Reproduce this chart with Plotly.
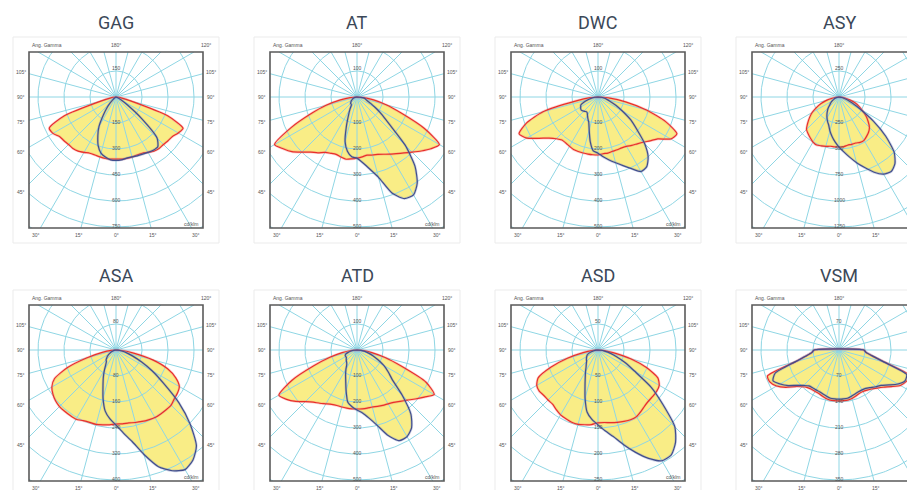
import numpy as np
import plotly.graph_objects as go

W, H = 915, 490

TITLES = ["GAG", "AT", "DWC", "ASY", "ASA", "ATD", "ASD", "VSM"]
RING_STEP = [150, 100, 100, 250, 80, 100, 50, 70]  # cd/klm per ring

GAMMA = [-90, -85, -80, -75, -70, -65, -60, -55, -50, -45, -40, -35, -30, -25, -20, -15, -10, -5, 0,
         5, 10, 15, 20, 25, 30, 35, 40, 45, 50, 55, 60, 65, 70, 75, 80, 85, 90]

# C0-C180 plane (red)
RED_GAG = [0, 17, 35, 87, 317, 425, 420, 398, 392, 387, 387, 381, 369, 358, 356, 358, 360, 360, 358,
           360, 360, 358, 356, 358, 369, 381, 387, 387, 392, 398, 415, 427, 317, 87, 35, 17, 0]
RED_AT = [0, 27, 65, 123, 189, 281, 366, 347, 327, 300, 277, 262, 246, 239, 235, 239, 243, 239, 235,
          231, 227, 231, 235, 243, 254, 266, 281, 300, 323, 347, 366, 285, 181, 116, 65, 27, 0]
RED_DWC = [0, 31, 85, 219, 293, 335, 316, 277, 246, 227, 216, 216, 219, 223, 223, 223, 223, 223, 223,
           219, 219, 216, 216, 216, 219, 227, 235, 246, 262, 281, 323, 335, 277, 193, 108, 46, 0]
RED_ASY = [0, 29, 67, 125, 183, 240, 298, 346, 394, 442, 462, 481, 500, 510, 500, 491, 481, 481, 481,
           481, 471, 471, 471, 481, 481, 462, 442, 414, 366, 317, 260, 212, 164, 106, 58, 29, 0]
RED_ASA = [0, 15, 43, 92, 160, 209, 228, 237, 243, 246, 246, 246, 246, 240, 237, 237, 234, 231, 228,
           228, 228, 231, 234, 237, 240, 240, 240, 240, 234, 231, 225, 203, 169, 117, 55, 18, 0]
RED_ATD = [0, 23, 58, 108, 177, 277, 347, 331, 308, 281, 262, 250, 239, 231, 227, 227, 227, 227, 227,
           227, 227, 227, 231, 235, 239, 246, 258, 273, 293, 316, 343, 293, 181, 112, 58, 23, 0]
RED_ASD = [0, 12, 29, 61, 96, 127, 136, 138, 136, 136, 136, 140, 144, 146, 148, 148, 146, 144, 140,
           140, 142, 144, 146, 148, 148, 144, 140, 138, 138, 138, 136, 127, 100, 65, 31, 12, 0]
RED_VSM = [67, 73, 89, 121, 205, 205, 194, 175, 153, 140, 132, 129, 129, 129, 132, 135, 137, 137, 137,
           137, 137, 135, 132, 129, 129, 132, 137, 145, 156, 172, 191, 200, 205, 129, 91, 73, 67]

# C90-C270 plane (blue)
BLUE_GAG = [0, 0, 0, 0, 0, 0, 0, 12, 23, 46, 81, 127, 196, 248, 300, 335, 352, 364, 366,
            364, 358, 358, 361, 364, 369, 375, 375, 335, 190, 81, 35, 17, 6, 0, 0, 0, 0]
BLUE_AT = [0, 4, 8, 12, 15, 19, 23, 27, 31, 35, 35, 38, 54, 77, 119, 177, 212, 231, 235,
           254, 281, 320, 393, 431, 435, 404, 347, 262, 162, 116, 81, 58, 42, 35, 31, 15, 0]
BLUE_DWC = [0, 12, 23, 38, 58, 73, 77, 81, 81, 77, 73, 73, 81, 92, 104, 131, 173, 208, 216,
            231, 246, 262, 281, 304, 331, 327, 300, 254, 196, 154, 108, 77, 50, 35, 23, 12, 0]
BLUE_ASY = [0, 10, 19, 29, 48, 58, 77, 96, 115, 144, 173, 202, 231, 260, 289, 337, 385, 433, 481,
            529, 587, 654, 722, 798, 856, 875, 837, 750, 587, 404, 240, 144, 87, 48, 29, 10, 0]
BLUE_ASA = [0, 3, 6, 9, 12, 18, 25, 31, 37, 43, 46, 55, 71, 92, 117, 154, 191, 213, 231,
            256, 286, 333, 382, 410, 425, 413, 385, 323, 253, 179, 129, 86, 55, 34, 18, 6, 0]
BLUE_ATD = [0, 12, 23, 35, 46, 50, 50, 50, 54, 58, 62, 69, 85, 104, 127, 162, 204, 219, 231,
            243, 266, 300, 350, 385, 385, 366, 323, 246, 177, 146, 119, 89, 65, 46, 31, 15, 0]
BLUE_ASD = [0, 4, 8, 13, 19, 23, 25, 27, 29, 31, 35, 40, 48, 58, 73, 96, 121, 134, 144,
            156, 169, 188, 209, 230, 246, 246, 232, 209, 163, 125, 81, 58, 38, 25, 13, 6, 0]
BLUE_VSM = [67, 73, 89, 121, 183, 196, 183, 167, 148, 135, 126, 124, 124, 124, 126, 129, 132, 132, 132,
            132, 132, 129, 126, 124, 124, 126, 132, 140, 148, 164, 183, 196, 194, 126, 91, 73, 67]

RED = [RED_GAG, RED_AT, RED_DWC, RED_ASY, RED_ASA, RED_ATD, RED_ASD, RED_VSM]
BLUE = [BLUE_GAG, BLUE_AT, BLUE_DWC, BLUE_ASY, BLUE_ASA, BLUE_ATD, BLUE_ASD, BLUE_VSM]

RAY_ANGLES = [0, 15, 30, 45, 60, 75, 90, 105, 120, 135, 150, 165, 180,
              195, 210, 225, 240, 255, 270, 285, 300, 315, 330, 345]
SIDE_LABELS = [105, 90, 75, 60, 45]
BOTTOM_LABELS = [30, 15, 0, 15, 30]
BOTTOM_SIGNS = [-1, -1, 0, 1, 1]
N_RINGS = 5

# ---------------- layout geometry (px, figure coordinates) ----------------
PAGE_OFF = 8          # the page body margin shifts the figure by this much
RING_PX = 26
FRAME_W, FRAME_H = 174, 176
CDX, CDY = 87, 45
COL_X = [29 - PAGE_OFF, 270 - PAGE_OFF, 511 - PAGE_OFF, 752 - PAGE_OFF]
ROW_Y = [52 - PAGE_OFF, 305 - PAGE_OFF]

YELLOW = "#f9ed86"
GRIDC = "#8fd6e4"
REDC = "#e8302a"
BLUEC = "#414e8c"
FRAMEC = "#5a5a5a"
LABC = "#555555"

fig = go.Figure()
annotations = []
shapes = []

g = np.radians(np.array(GAMMA, dtype=float))
theta = np.linspace(0, 2 * np.pi, 361)


def px(xp):
    return xp / W


def py(yp):
    return 1 - yp / H


def paper_text(xp, yp, text, font, xanchor="center"):
    if xp > W - 6:
        return
    annotations.append(dict(x=px(xp), y=py(yp), xref="paper", yref="paper", text=text,
                            showarrow=False, xanchor=xanchor, yanchor="middle", font=font))


hidden_axis = dict(showgrid=False, zeroline=False, showline=False, showticklabels=False,
                   ticks="", fixedrange=True, showspikes=False)

for i, name in enumerate(TITLES):
    row, col = divmod(i, 4)
    L, T = COL_X[col], ROW_Y[row]
    cx, cy = L + CDX, T + CDY
    step = RING_STEP[i]
    k = step / RING_PX
    sfx = "" if i == 0 else str(i + 1)
    xa, ya = "x" + sfx, "y" + sfx
    right_px = min(L + FRAME_W, W)
    xr = [-CDX * k, (right_px - L - CDX) * k]
    yr = [-(FRAME_H - CDY) * k, CDY * k]
    fig.layout["xaxis" + sfx] = dict(domain=[px(L), px(right_px)], range=xr, anchor=ya, **hidden_axis)
    fig.layout["yaxis" + sfx] = dict(domain=[py(T + FRAME_H), py(T)], range=yr, anchor=xa, **hidden_axis)

    shapes.append(dict(type="rect", xref="paper", yref="paper", layer="below",
                       x0=px(L - 16), x1=px(L + FRAME_W + 16), y0=py(T - 15), y1=py(T + FRAME_H + 15),
                       line=dict(color="#ebebeb", width=1), fillcolor="white"))
    shapes.append(dict(type="rect", xref="paper", yref="paper", layer="above",
                       x0=px(L), x1=px(L + FRAME_W), y0=py(T), y1=py(T + FRAME_H),
                       line=dict(color=FRAMEC, width=1.6)))

    red = np.array(RED[i], dtype=float)
    blue = np.array(BLUE[i], dtype=float)
    rx, ry = red * np.sin(g), -red * np.cos(g)
    bx, by = blue * np.sin(g), -blue * np.cos(g)
    rx_c, ry_c = np.append(rx, rx[0]), np.append(ry, ry[0])
    bx_c, by_c = np.append(bx, bx[0]), np.append(by, by[0])

    # yellow fills, no line path at all
    for X, Y in ((rx_c, ry_c), (bx_c, by_c)):
        fig.add_trace(go.Scatter(x=X, y=Y, xaxis=xa, yaxis=ya, mode="none", fill="toself",
                                 fillcolor=YELLOW, hoverinfo="skip", showlegend=False))

    # grid circles
    for j in range(1, 8):
        fig.add_trace(go.Scatter(x=j * step * np.cos(theta), y=j * step * np.sin(theta),
                                 xaxis=xa, yaxis=ya, mode="lines",
                                 line=dict(color=GRIDC, width=1), hoverinfo="skip", showlegend=False))
    # grid rays, ending at the frame edge
    for a in RAY_ANGLES:
        ar = np.radians(a)
        sx, sy = np.sin(ar), -np.cos(ar)
        ts = []
        if abs(sx) > 1e-9:
            ts.append((xr[1] if sx > 0 else xr[0]) / sx)
        if abs(sy) > 1e-9:
            ts.append((yr[1] if sy > 0 else yr[0]) / sy)
        t = min(ts)
        fig.add_trace(go.Scatter(x=[0, t * sx], y=[0, t * sy], xaxis=xa, yaxis=ya, mode="lines",
                                 line=dict(color=GRIDC, width=1), hoverinfo="skip", showlegend=False))

    # photometric curves
    for X, Y, c, halo in ((rx_c, ry_c, REDC, "rgba(245,120,120,0.35)"),
                          (bx_c, by_c, BLUEC, "rgba(120,135,190,0.35)")):
        fig.add_trace(go.Scatter(x=X, y=Y, xaxis=xa, yaxis=ya, mode="lines",
                                 line=dict(color=halo, width=2.6, shape="spline", smoothing=0.6),
                                 hoverinfo="skip", showlegend=False))
        fig.add_trace(go.Scatter(x=X, y=Y, xaxis=xa, yaxis=ya, mode="lines",
                                 line=dict(color=c, width=1.2, shape="spline", smoothing=0.6),
                                 hoverinfo="skip", showlegend=False))

    small = dict(size=5, color=LABC, family="Arial")
    annotations.append(dict(x=0, y=step, xref=xa, yref=ya, text=str(step), showarrow=False,
                            xanchor="center", yanchor="middle", font=small, yshift=3))
    for j in range(1, N_RINGS + 1):
        annotations.append(dict(x=0, y=-j * step, xref=xa, yref=ya, text=str(j * step),
                                showarrow=False, xanchor="center", yanchor="middle",
                                font=small, yshift=1))

    paper_text(cx, T - 30, name, dict(size=18, color="#3b4858", family="Roboto"))
    paper_text(L + 1, T - 7, "Ang. Gamma", small, xanchor="left")
    paper_text(cx, T - 7, "180°", small)
    paper_text(cx + 90, T - 7, "120°", small)
    for a in SIDE_LABELS:
        dy = 0 if a == 90 else 95 / np.tan(np.radians(a))
        for xs in (L - 8, L + FRAME_W + 8):
            paper_text(xs, cy + dy, f"{a}°", small)
    for a, s in zip(BOTTOM_LABELS, BOTTOM_SIGNS):
        dx = s * (FRAME_H - CDY + 8) * np.tan(np.radians(a))
        paper_text(cx + dx, T + FRAME_H + 7, f"{a}°", small)
    paper_text(L + FRAME_W - 3, T + FRAME_H - 4, "cd/klm", small, xanchor="right")

fig.update_layout(template="none", width=W, height=H, margin=dict(l=0, r=0, t=0, b=0),
                  paper_bgcolor="white", plot_bgcolor="white", dragmode=False,
                  annotations=annotations, shapes=shapes, showlegend=False)
fig.write_html("out.html")
